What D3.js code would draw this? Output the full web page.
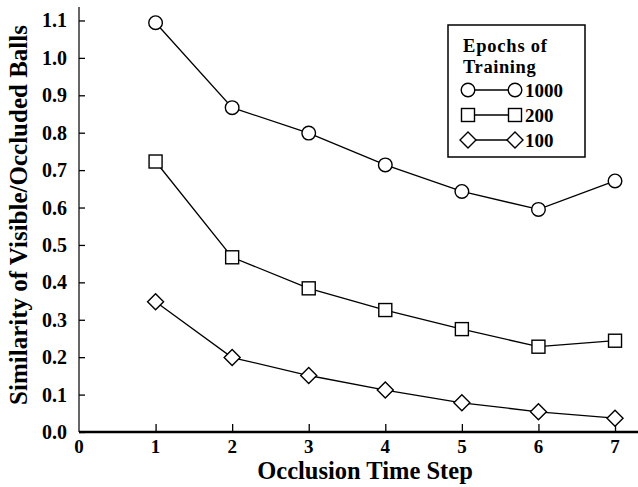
<!DOCTYPE html>
<html><head><meta charset="utf-8">
<script src="https://cdn.jsdelivr.net/npm/d3@7"></script>
<style>
html,body{margin:0;padding:0;background:#fff;}
svg text{font-family:"Liberation Serif","Times New Roman",serif;font-weight:bold;fill:#000;}
</style></head>
<body><svg id="c" width="638" height="487"></svg>
<script>
const steps = [1,2,3,4,5,6,7];
const xTicks = [0,1,2,3,4,5,6,7];
const yTicks = [0,0.1,0.2,0.3,0.4,0.5,0.6,0.7,0.8,0.9,1.0,1.1];
const epochs1000 = [1.094,0.867,0.799,0.714,0.643,0.595,0.671];
const epochs200 = [0.723,0.467,0.384,0.326,0.275,0.228,0.244];
const epochs100 = [0.348,0.199,0.151,0.112,0.078,0.054,0.037];
const seriesNames = ["1000","200","100"];
const seriesShapes = ["circle","square","diamond"];
const seriesData = [epochs1000,epochs200,epochs100];

const svg = d3.select("#c");
const x = d3.scaleLinear().domain([0,7.3]).range([79,638]);
const y = d3.scaleLinear().domain([0,1.136]).range([432,7]);

// axes
const yAxis = svg.append("g").attr("transform","translate(79,0)")
  .call(d3.axisRight(y).tickValues(yTicks).tickSize(6).tickFormat(""));
yAxis.select(".domain").attr("d",`M0,${y(1.136)}V${y(0)}`).attr("stroke","#333").attr("stroke-width",1.5);
yAxis.selectAll(".tick line").attr("stroke","#000").attr("stroke-width",1.3);
svg.selectAll(".ylab").data(yTicks).enter().append("text")
  .attr("x",67).attr("y",d=>y(d)+7).attr("text-anchor","end")
  .attr("font-size",20).text(d=>d.toFixed(1));

const xAxis = svg.append("g").attr("transform","translate(0,432)")
  .call(d3.axisTop(x).tickValues(xTicks.slice(1)).tickSize(8).tickFormat(""));
xAxis.select(".domain").attr("d",`M${x(0)},0H638`).attr("stroke","#000").attr("stroke-width",2.5);
xAxis.selectAll(".tick line").attr("stroke","#000").attr("stroke-width",1.3);
svg.selectAll(".xlab").data(xTicks).enter().append("text")
  .attr("x",d=>x(d)).attr("y",453).attr("text-anchor","middle")
  .attr("font-size",19).text(d=>d);

svg.append("text").attr("x",365).attr("y",479).attr("text-anchor","middle")
  .attr("font-size",24.5).text("Occlusion Time Step");
svg.append("text").attr("transform","translate(27,215) rotate(-90)")
  .attr("text-anchor","middle").attr("font-size",25).text("Similarity of Visible/Occluded Balls");

function marker(g, shape, cx, cy){
  if(shape==="circle") g.append("circle").attr("cx",cx).attr("cy",cy).attr("r",6.8);
  else if(shape==="square") g.append("rect").attr("x",cx-6.5).attr("y",cy-6.5).attr("width",13).attr("height",13);
  else g.append("path").attr("d",`M${cx},${cy-8}L${cx+8},${cy}L${cx},${cy+8}L${cx-8},${cy}Z`);
}

const line = d3.line().x((d,i)=>x(steps[i])).y(d=>y(d));
seriesData.forEach((vals,si)=>{
  svg.append("path").attr("d",line(vals)).attr("fill","none").attr("stroke","#000").attr("stroke-width",1.3);
  const g = svg.append("g").attr("fill","#fff").attr("stroke","#000").attr("stroke-width",1.4);
  vals.forEach((v,i)=>marker(g, seriesShapes[si], x(steps[i]), y(v)));
});

// legend
const lg = svg.append("g");
lg.append("rect").attr("x",448).attr("y",25).attr("width",137).attr("height",132)
  .attr("fill","#fff").attr("stroke","#000").attr("stroke-width",1.5);
lg.append("text").attr("x",463).attr("y",52).attr("font-size",18.5).attr("letter-spacing",0.8).text("Epochs of");
lg.append("text").attr("x",463).attr("y",72.6).attr("font-size",18.5).attr("letter-spacing",0.6).text("Training");
seriesNames.forEach((n,i)=>{
  const cy = 90 + i*25;
  lg.append("line").attr("x1",468).attr("x2",515).attr("y1",cy).attr("y2",cy).attr("stroke","#000").attr("stroke-width",1.3);
  const g = lg.append("g").attr("fill","#fff").attr("stroke","#000").attr("stroke-width",1.4);
  marker(g, seriesShapes[i], 468, cy);
  marker(g, seriesShapes[i], 515, cy);
  lg.append("text").attr("x",525).attr("y",cy+7).attr("font-size",19).text(n);
});
</script></body></html>
